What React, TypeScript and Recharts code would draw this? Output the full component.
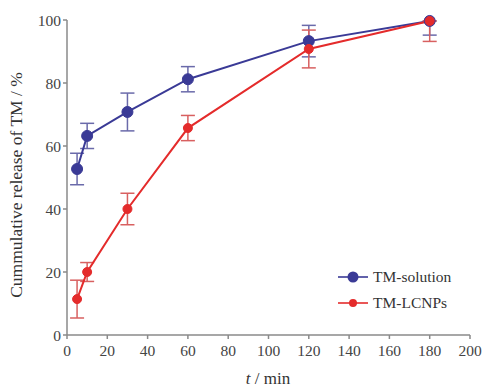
import { LineChart, Line, XAxis, YAxis, ErrorBar, Legend } from "recharts";

const times = [5, 10, 30, 60, 120, 180];
const solution = [52.7, 63.2, 70.8, 81.2, 93.3, 99.7];
const solutionErr = [[5, 5], [4, 4], [6, 6], [4, 4], [5, 5], [4.5, 0]];
const lcnps = [11.4, 20, 40, 65.7, 90.8, 99.7];
const lcnpsErr = [[6, 6], [3, 3], [5, 5], [4, 4], [6, 6], [6.5, 0]];
const xTicks = [0, 20, 40, 60, 80, 100, 120, 140, 160, 180, 200];
const yTicks = [0, 20, 40, 60, 80, 100];

const BLUE = "#3a3a96";
const RED = "#e42b2b";
const FONT = "'Liberation Serif', 'Times New Roman', serif";

const data = times.map((t, i) => ({
  t,
  sol: solution[i],
  solErr: solutionErr[i],
  lc: lcnps[i],
  lcErr: lcnpsErr[i],
}));

function LegendBox() {
  const items = [
    { name: "TM-solution", color: BLUE, r: 5.5 },
    { name: "TM-LCNPs", color: RED, r: 4 },
  ];
  return (
    <svg width={140} height={56}>
      {items.map((it, i) => (
        <g key={it.name} transform={`translate(0, ${10 + i * 26})`}>
          <line x1={2} x2={32} y1={0} y2={0} stroke={it.color} strokeWidth={1.6} />
          <circle cx={17} cy={0} r={it.r} fill={it.color} />
          <text x={37} y={5} fontSize={15.5} fontFamily={FONT} fill="#333">
            {it.name}
          </text>
        </g>
      ))}
    </svg>
  );
}

export default function App() {
  return (
    <div style={{ position: "fixed", left: 0, top: 0, background: "#fff" }}>
      <LineChart
        width={485}
        height={392}
        data={data}
        margin={{ top: 20, right: 15, bottom: 0, left: 0 }}
      >
        <XAxis
          dataKey="t"
          type="number"
          domain={[0, 200]}
          ticks={xTicks}
          interval={0}
          height={57}
          stroke="#8a8a8a"
          strokeWidth={1.5}
          tickSize={4}
          tickMargin={6}
          tick={{ fontSize: 15.5, fontFamily: FONT, fill: "#444" }}
          label={{
            content: () => (
              <text x={268} y={384} textAnchor="middle" fontSize={17} fontFamily={FONT} fill="#333">
                <tspan fontStyle="italic">t</tspan> / min
              </text>
            ),
          }}
        />
        <YAxis
          type="number"
          domain={[0, 100]}
          ticks={yTicks}
          interval={0}
          width={67}
          stroke="#8a8a8a"
          strokeWidth={1.5}
          tickSize={4}
          tick={{ fontSize: 15.5, fontFamily: FONT, fill: "#444" }}
          label={{
            content: () => (
              <text
                x={0}
                y={0}
                transform="translate(22, 185) rotate(-90)"
                textAnchor="middle"
                fontSize={17.5}
                fontFamily={FONT}
                fill="#333"
              >
                Cummulative release of TM / %
              </text>
            ),
          }}
        />
        <Legend
          layout="horizontal"
          verticalAlign="middle"
          align="center"
          wrapperStyle={{ left: 336, top: 267, width: 140 }}
          content={() => <LegendBox />}
        />
        <Line
          type="linear"
          dataKey="sol"
          name="TM-solution"
          stroke={BLUE}
          strokeWidth={2}
          dot={{ r: 5.5, fill: BLUE, stroke: BLUE, strokeWidth: 1 }}
          isAnimationActive={false}
        >
          <ErrorBar dataKey="solErr" direction="y" width={7} stroke="#6a6aaa" strokeWidth={1.5} />
        </Line>
        <Line
          type="linear"
          dataKey="lc"
          name="TM-LCNPs"
          stroke={RED}
          strokeWidth={2}
          dot={{ r: 4.5, fill: RED, stroke: RED, strokeWidth: 1 }}
          isAnimationActive={false}
        >
          <ErrorBar dataKey="lcErr" direction="y" width={7} stroke="#d86060" strokeWidth={1.5} />
        </Line>
      </LineChart>
    </div>
  );
}
